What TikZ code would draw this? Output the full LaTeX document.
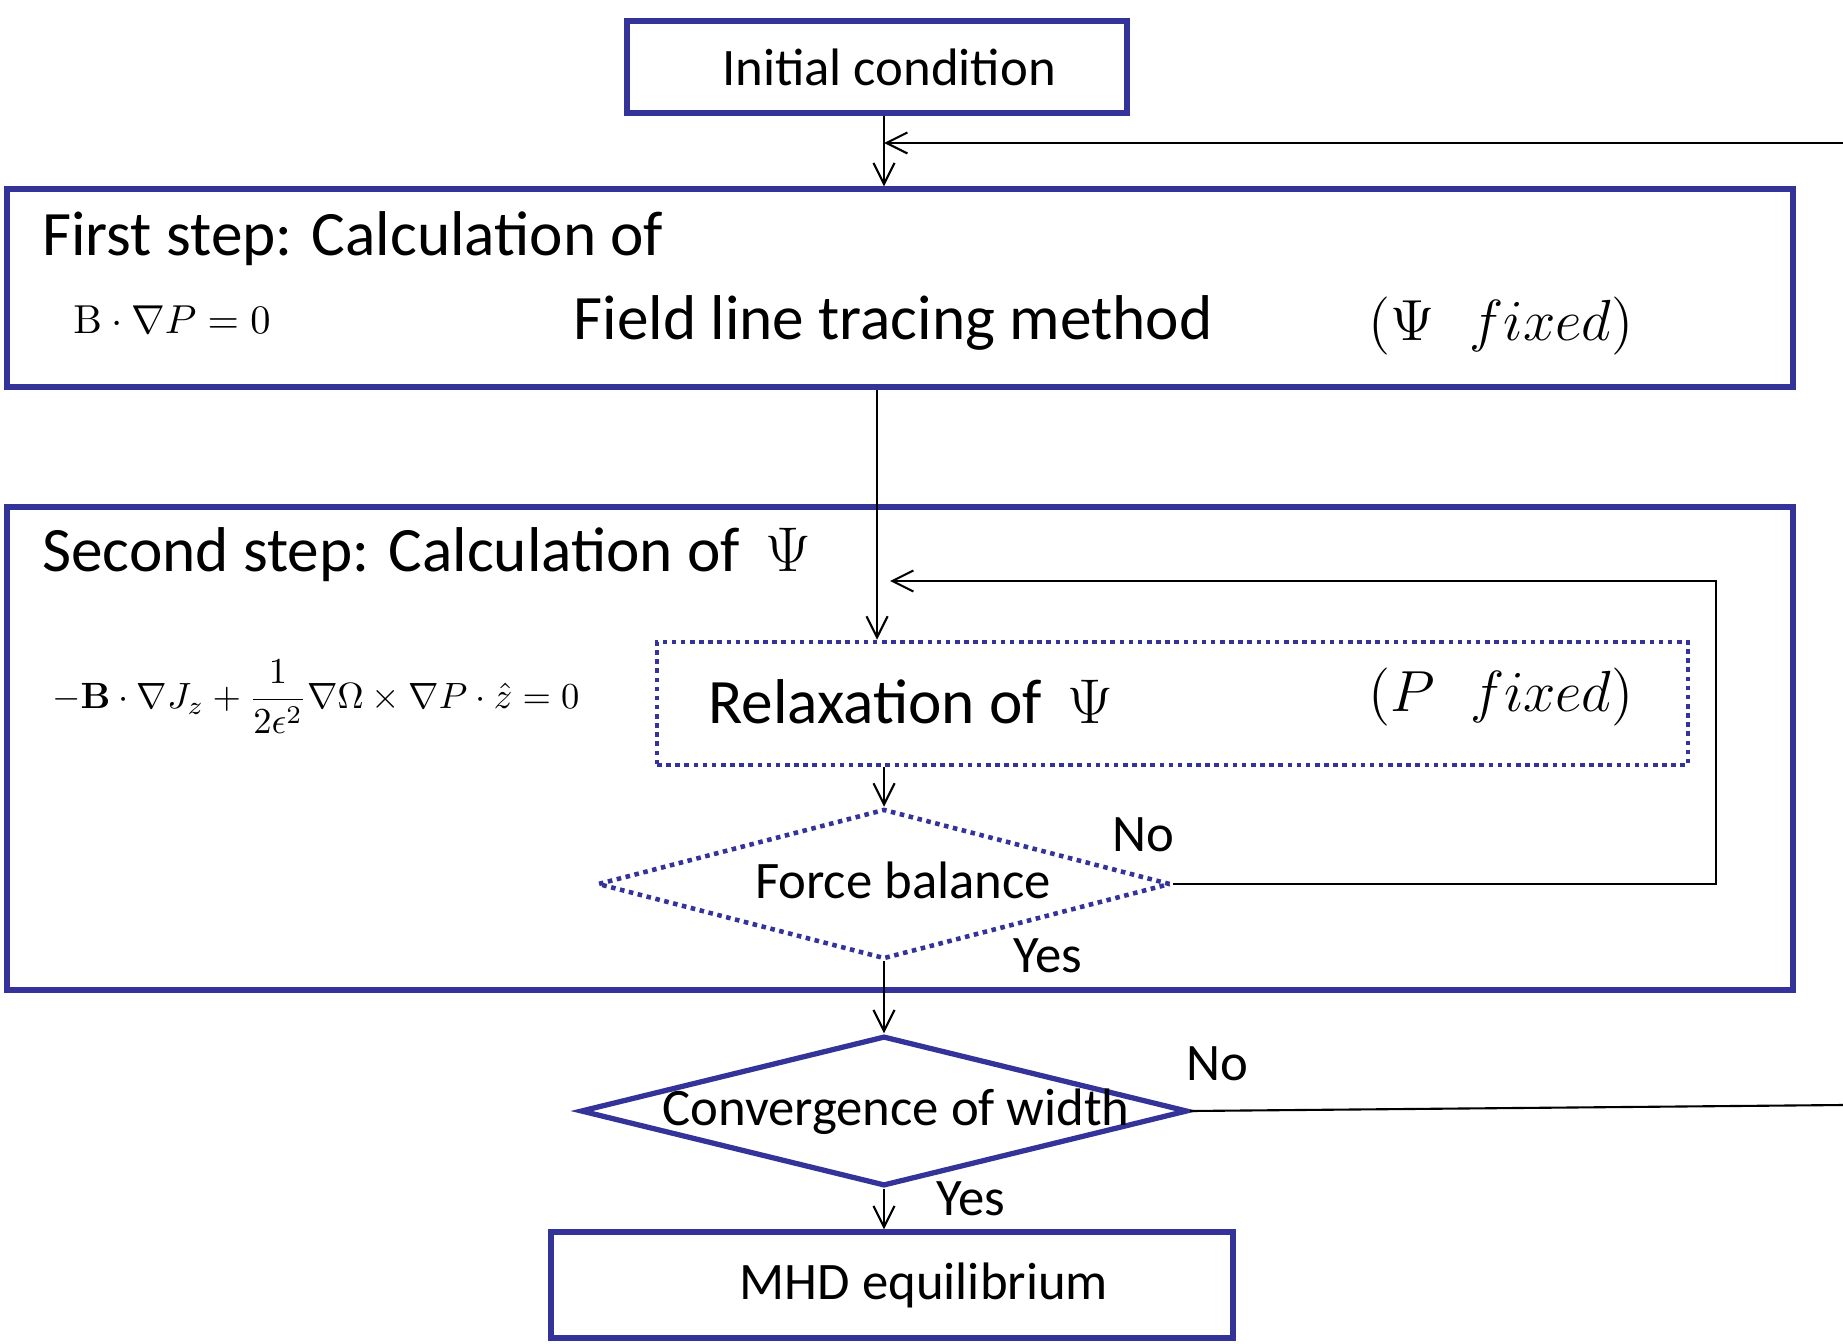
\RequirePackage{fix-cm}
\documentclass[tikz,border=0pt]{standalone}
\usepackage{amsmath}
\usepackage{amssymb}
\usepackage[no-math]{fontspec}
\setmainfont{Carlito}
\usetikzlibrary{shapes.geometric,arrows.meta}
\definecolor{boxblue}{RGB}{51,51,153}
\begin{document}
\begin{tikzpicture}[
		box/.style={draw=boxblue,line width=1.5pt,rectangle,inner sep=0pt},
		dotbox/.style={draw=boxblue,line width=1.3pt,dash pattern=on 1.3pt off 1.3pt,inner sep=0pt},
		arr/.style={-{Straight Barb[length=6pt,width=6pt]},line width=0.6pt},
		big/.style={font=\fontsize{18}{22}\selectfont},
		small/.style={font=\fontsize{15}{18}\selectfont},
		eqn/.style={font=\fontsize{11.5}{14}\selectfont},
		fixd/.style={font=\fontsize{16.5}{19}\selectfont}]
			\useasboundingbox (0,0) rectangle (18.43,-13.43);
			\node[box,minimum width=5cm,minimum height=0.92cm,small] (init) at (8.77,-0.67) {\hspace{0.24cm}Initial condition};
			\node[box,minimum width=17.86cm,minimum height=1.98cm] (first) at (9.00,-2.88) {};
			\node[box,minimum width=17.86cm,minimum height=4.83cm] (second) at (9.00,-7.485) {};
			\node[dotbox,minimum width=10.31cm,minimum height=1.23cm] (relax) at (11.725,-7.035) {};
			\node[dotbox,diamond,aspect=3.82,minimum width=5.73cm,minimum height=1.5cm] (force) at (8.84,-8.84) {};
			\node[box,diamond,aspect=4.05,minimum width=6.07cm,minimum height=1.5cm] (conv) at (8.84,-11.11) {};
			\node[box,minimum width=6.82cm,minimum height=1.06cm,small] (mhd) at (8.92,-12.85) {\hspace{0.64cm}MHD equilibrium};
			\node[big,anchor=west] (first label) at (0.30,-2.39) {First step: Calculation of};
			\node[eqn,anchor=west] (eq first) at (0.61,-3.20) {$\mathrm{B}\cdot\nabla P=0$};
			\node[big] (tracing) at (8.93,-3.23) {Field line tracing method};
			\node[fixd] (psi fixed) at (15.01,-3.26) {$(\Psi\hspace{10pt}fixed)$};
			\node[big,anchor=west] (second label) at (0.30,-5.55) {Second step: Calculation of \,$\Psi$};
			\node[font=\fontsize{10.4}{12}\selectfont,anchor=west,inner sep=1pt] (eq second) at (0.48,-6.97) {$-\mathbf{B}\cdot\nabla J_z+\dfrac{1}{2\epsilon^2}\nabla\Omega\times\nabla P\cdot\hat{z}=0$};
			\node[big,anchor=west] (relax label) at (6.96,-7.02) {Relaxation of \,$\Psi$};
			\node[fixd] (p fixed) at (15.01,-6.97) {$(P\hspace{10pt}fixed)$};
			\node[small] (force label) at (9.03,-8.80) {Force balance};
			\node[small] (conv label) at (8.96,-11.12) {Convergence of width};
			\node[small] (no force) at (11.43,-8.35) {No};
			\node[small] (yes force) at (10.48,-9.56) {Yes};
			\node[small] (no conv) at (12.17,-10.64) {No};
			\node[small] (yes conv) at (9.71,-11.99) {Yes};
			\coordinate (back top) at (18.43,-1.43);
			\coordinate (loop) at (17.16,-5.81);
			\coordinate (back bottom) at (18.43,-11.05);
			\draw[arr] (init.south -| force.north)--(first.north -| force.north);
			\draw[arr] (back top)--(back top -| force.north);
			\draw[arr] (first.south -| init.center)--(relax.north -| init.center);
			\draw[arr] (relax.south -| force.north)--(force.north);
			\draw[arr] (force.east)-|(loop)--([xshift=0.13cm]loop -| init.center);
			\draw[arr] (force.south)--(conv.north);
			\draw[line width=0.6pt] (conv.east)--(back bottom);
			\draw[arr] (conv.south)--(mhd.north -| conv.south);
		\end{tikzpicture}
\end{document}
